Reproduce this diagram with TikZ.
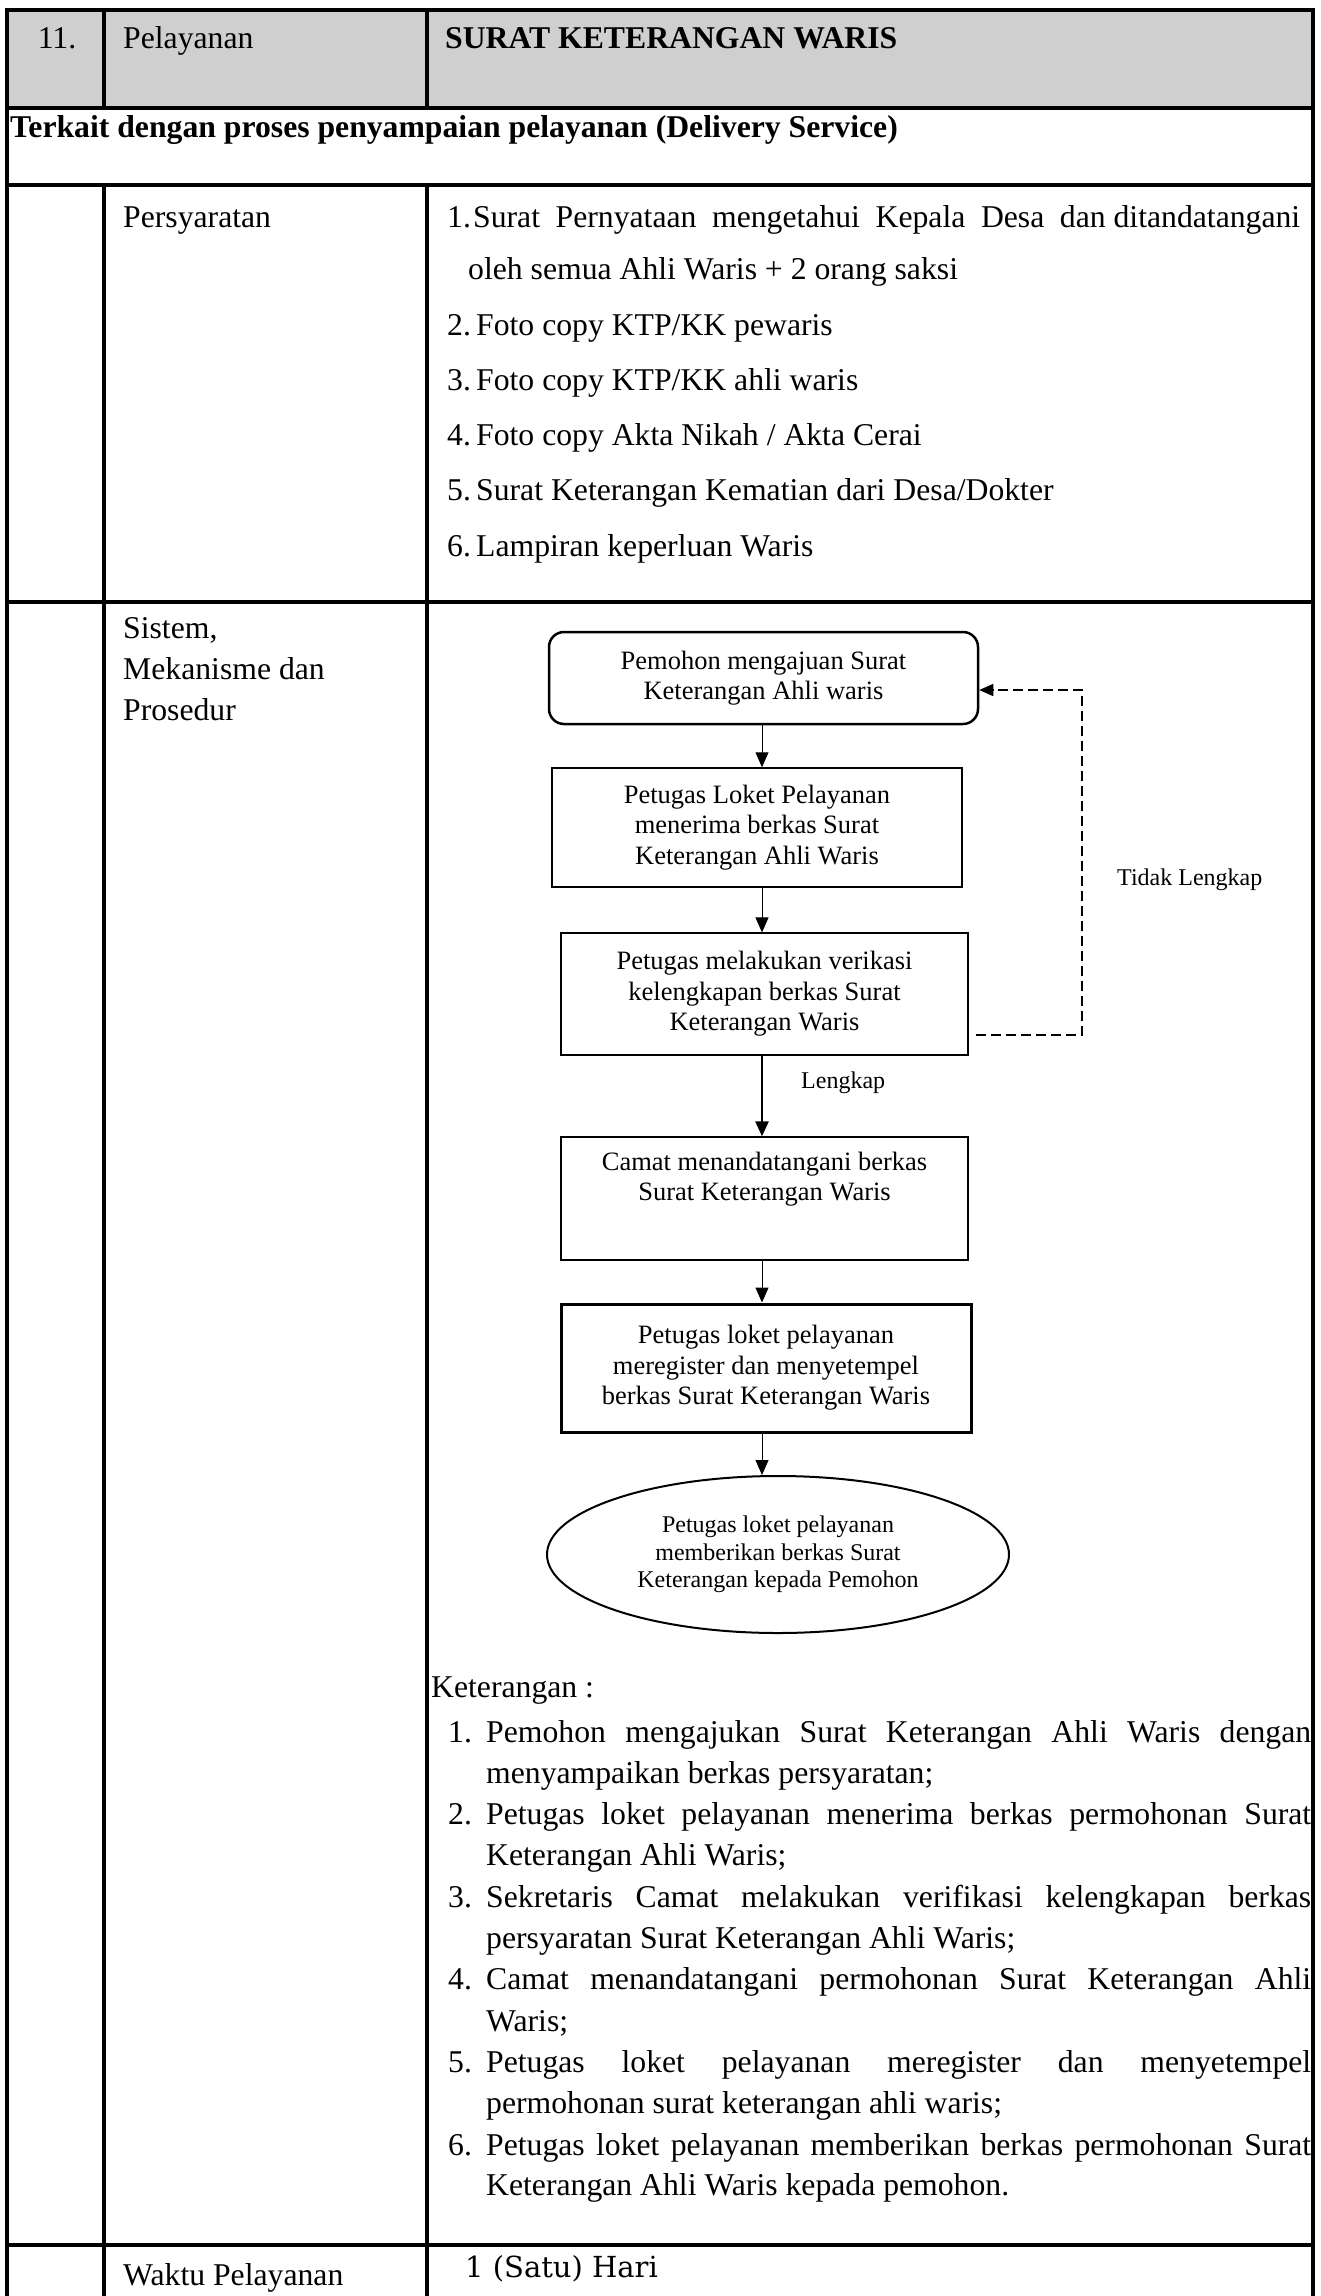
\documentclass[tikz,border=0pt]{standalone}
\usepackage{fontspec}
\setmainfont{Liberation Serif}
\newfontfamily\bookfont{DejaVu Serif}
\usetikzlibrary{arrows.meta,shapes.geometric}

\definecolor{headgray}{RGB}{208,207,208}

\newcommand{\bodysz}{\fontsize{31.7}{38}\selectfont}
\newcommand{\flowsz}{\fontsize{26.5}{30.5}\selectfont}
\newcommand{\ovalsz}{\fontsize{24}{27.5}\selectfont}
\newcommand{\labsz}{\fontsize{24}{28}\selectfont}

\begin{document}
\begin{tikzpicture}[x=1pt,y=-1pt,
  txt/.style={anchor=base west,inner sep=0pt,font=\bodysz},
  btxt/.style={txt,font=\bodysz\bfseries},
  tabline/.style={line width=3.3pt},
  rowline/.style={line width=4pt},
  flowbox/.style={draw,rectangle,inner sep=0pt,align=center,font=\flowsz},
  startbox/.style={flowbox,rounded corners=15pt,line width=2.5pt},
  ovalshape/.style={draw,ellipse,inner sep=0pt,align=center,font=\ovalsz,line width=2pt},
  arr/.style={-{Triangle[length=15pt,width=13pt]},line width=1pt},
  dashline/.style={dashed,dash pattern=on 10pt off 5pt,line width=1.5pt,
    -{Triangle[length=14pt,width=12pt]}},
  flowlabel/.style={anchor=base west,inner sep=0pt,font=\labsz}]

\useasboundingbox (0,0) rectangle (1320,2296);
\fill[white] (0,0) rectangle (1320,2296);

% header band
\fill[headgray] (7,10) rectangle (1313,108);

% table rules
\draw[tabline,line join=miter] (7,2296) -- (7,10) -- (1313,10) -- (1313,2296);
\draw[tabline] (7,108) -- (1313,108);
\draw[rowline] (7,185) -- (1313,185);
\draw[rowline] (7,602) -- (1313,602);
\draw[rowline] (7,2245) -- (1313,2245);
\draw[tabline] (104,10) -- (104,108);
\draw[tabline] (427,10) -- (427,108);
\draw[tabline] (104,185) -- (104,2296);
\draw[tabline] (427,185) -- (427,2296);

% header row
\node[txt,anchor=base] (num) at (57,49) {11.};
\node[txt] (svc) at (123,49) {Pelayanan};
\node[btxt] (title) at (445,49) {SURAT KETERANGAN WARIS};
\node[btxt] (sect) at (10,138) {Terkait dengan proses penyampaian pelayanan (Delivery Service)};

% requirements
\node[txt] (req) at (123,227) {Persyaratan};
\node[txt] (r1n) at (447,227) {1.};
\node[txt] (r1) at (473,227) {\makebox[827pt][s]{Surat Pernyataan mengetahui Kepala Desa \mbox{dan ditandatangani}}};
\node[txt] (r1b) at (468,279) {oleh semua Ahli Waris + 2 orang saksi};
\node[txt] (r2n) at (447,335) {2.};
\node[txt] (r2) at (476,335) {Foto copy KTP/KK pewaris};
\node[txt] (r3n) at (447,390) {3.};
\node[txt] (r3) at (476,390) {Foto copy KTP/KK ahli waris};
\node[txt] (r4n) at (447,445) {4.};
\node[txt] (r4) at (476,445) {Foto copy Akta Nikah / Akta Cerai};
\node[txt] (r5n) at (447,500) {5.};
\node[txt] (r5) at (476,500) {Surat Keterangan Kematian dari Desa/Dokter};
\node[txt] (r6n) at (447,556) {6.};
\node[txt] (r6) at (476,556) {Lampiran keperluan Waris};

% procedure label
\node[txt] (sys1) at (123,638) {Sistem,};
\node[txt] (sys2) at (123,679) {Mekanisme dan};
\node[txt] (sys3) at (123,720) {Prosedur};

% flowchart
\node[startbox,minimum width=429pt,minimum height=92pt] (s1) at (763.5,678)
  {Pemohon mengajuan Surat\\Keterangan Ahli waris};
\node[flowbox,line width=1.5pt,minimum width=410pt,minimum height=119pt] (s2) at (757,827.5)
  {Petugas Loket Pelayanan\\menerima berkas Surat\\Keterangan Ahli Waris};
\node[flowbox,line width=1.2pt,minimum width=407pt,minimum height=122pt] (s3) at (764.5,994)
  {Petugas melakukan verikasi\\kelengkapan berkas Surat\\Keterangan Waris};
\node[flowbox,line width=1.3pt,minimum width=407pt,minimum height=123pt] (s4) at (764.5,1198.5)
  {Camat menandatangani berkas\\Surat Keterangan Waris\\[14pt]\mbox{}};
\node[flowbox,line width=3pt,minimum width=410pt,minimum height=128pt] (s5) at (766,1368)
  {Petugas loket pelayanan\\meregister dan menyetempel\\berkas Surat Keterangan Waris};
\node[ovalshape,minimum width=462pt,minimum height=157pt] (s6) at (778,1554.5)
  {Petugas loket pelayanan\\memberikan berkas Surat\\Keterangan kepada Pemohon};

\coordinate (ax) at (762,0);
\draw[arr] (ax |- s1.south) -- (ax |- s2.north);
\draw[arr] (ax |- s2.south) -- (ax |- s3.north);
\draw[arr,line width=2.5pt] (ax |- s3.south) -- (ax |- s4.north);
\draw[arr] (ax |- s4.south) -- (ax |- s5.north);
\draw[arr] (ax |- s5.south) -- (ax |- s6.north);

% return path for incomplete files
\coordinate (dl) at ([xshift=7pt]s3.east);
\coordinate (dr) at (1082,1035);
\coordinate (ur) at (1082,690);
\draw[dashline] (dl |- dr) -- (dr) -- (ur) -- (s1.east |- ur);

\node[flowlabel] (lbl1) at (1117,885) {Tidak Lengkap};
\node[flowlabel] (lbl2) at (801,1088) {Lengkap};

% notes
\node[txt] (kt) at (431,1697) {Keterangan :};
\node[txt] (k1n) at (448,1742) {1.};
\node[txt] (k1) at (486,1742) {\makebox[825pt][s]{Pemohon mengajukan Surat Keterangan Ahli Waris dengan}};
\node[txt] (k1b) at (486,1783.3) {menyampaikan berkas persyaratan;};
\node[txt] (k2n) at (448,1824.6) {2.};
\node[txt] (k2) at (486,1824.6) {\makebox[825pt][s]{Petugas loket pelayanan menerima berkas permohonan Surat}};
\node[txt] (k2b) at (486,1865.9) {Keterangan Ahli Waris;};
\node[txt] (k3n) at (448,1907.2) {3.};
\node[txt] (k3) at (486,1907.2) {\makebox[825pt][s]{Sekretaris Camat melakukan verifikasi kelengkapan berkas}};
\node[txt] (k3b) at (486,1948.5) {persyaratan Surat Keterangan Ahli Waris;};
\node[txt] (k4n) at (448,1989.8) {4.};
\node[txt] (k4) at (486,1989.8) {\makebox[825pt][s]{Camat menandatangani permohonan Surat Keterangan Ahli}};
\node[txt] (k4b) at (486,2031.1) {Waris;};
\node[txt] (k5n) at (448,2072.4) {5.};
\node[txt] (k5) at (486,2072.4) {\makebox[825pt][s]{Petugas loket pelayanan meregister dan menyetempel}};
\node[txt] (k5b) at (486,2113.7) {permohonan surat keterangan ahli waris;};
\node[txt] (k6n) at (448,2155) {6.};
\node[txt] (k6) at (486,2155) {\makebox[825pt][s]{Petugas loket pelayanan memberikan berkas permohonan Surat}};
\node[txt] (k6b) at (486,2195.5) {Keterangan Ahli Waris kepada pemohon.};

% service time
\node[txt] (wt) at (123,2285) {Waktu Pelayanan};
\node[txt,font=\bookfont\fontsize{29}{34}\selectfont] (wv) at (465,2277) {1 (Satu) Hari};

\end{tikzpicture}
\end{document}
